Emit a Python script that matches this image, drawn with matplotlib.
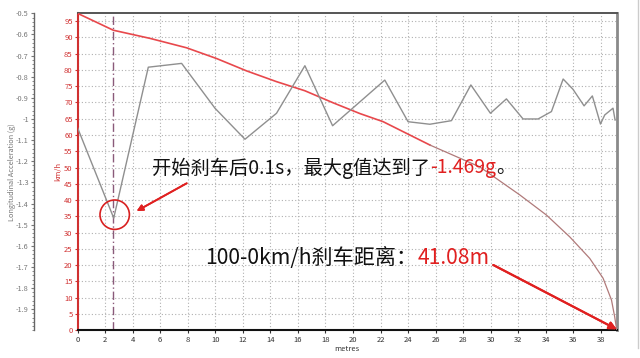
import matplotlib
matplotlib.use("Agg")
import matplotlib.pyplot as plt
from matplotlib.patches import Ellipse
from matplotlib.lines import Line2D
import numpy as np

plt.rcParams['font.family'] = ['Noto Sans CJK SC', 'DejaVu Sans']

# ---- data ----
acc_dist = [0, 2.63, 5.14, 7.56, 9.98, 12.16, 14.45, 16.51, 18.52, 22.31, 24.0,
            25.58, 27.15, 28.56, 29.98, 31.14, 32.35, 33.44, 34.41, 35.26, 35.98,
            36.78, 37.38, 37.97, 38.28, 38.88, 39.03]
acc_g = [-1.041, -1.469, -0.755, -0.737, -0.949, -1.096, -0.973, -0.748, -1.032,
         -0.816, -1.013, -1.025, -1.008, -0.839, -0.973, -0.905, -1.0, -1.0,
         -0.965, -0.811, -0.86, -0.938, -0.891, -1.024, -0.981, -0.949, -1.005]

spd_dist_a = [0, 2.6, 5.26, 7.92, 10.1, 12.28, 14.45, 16.51, 18.56, 20.5, 22.19,
              24.13, 25.6]
spd_a = [97.4, 92.2, 89.7, 86.8, 83.5, 79.7, 76.4, 73.6, 69.9, 66.6, 64.1, 60.0, 56.9]
spd_dist_b = [25.6, 29.21, 32.11, 34.05, 35.74, 37.19, 38.16, 38.77, 39.0, 39.13, 39.15]
spd_b = [56.9, 50.2, 41.6, 35.4, 28.7, 22.1, 16.0, 9.3, 4.2, 0.6, 0.0]

brake_start = 2.6
x_ticks = list(range(0, 39, 2))
spd_ticks = list(range(0, 100, 5))
acc_ticks = [-0.5, -0.6, -0.7, -0.8, -0.9, -1.0, -1.1, -1.2, -1.3, -1.4, -1.5,
             -1.6, -1.7, -1.8, -1.9]
acc_tick_labels = ['-0.5', '-0.6', '-0.7', '-0.8', '-0.9', '-1', '-1.1', '-1.2',
                   '-1.3', '-1.4', '-1.5', '-1.6', '-1.7', '-1.8', '-1.9']

W, H = 640, 358
fig = plt.figure(figsize=(6.4, 3.58), dpi=100)
fig.patch.set_facecolor('white')

def fx(px):
    return px / W

def fy(py):
    return 1 - py / H

L, R, T, B = 77.5, 617.0, 13.3, 330.3
ax = fig.add_axes([fx(L), fy(B), fx(R) - fx(L), fy(T) - fy(B)])
ax.set_xlim(0, 39.17)
ax.set_ylim(0, 97.4)
ax.set_xticks(x_ticks)
ax.set_yticks(spd_ticks)
ax.grid(True, color='#b0b0b0', linestyle=(0, (1, 2)), linewidth=0.8)
ax.set_axisbelow(True)
ax.tick_params(axis='x', labelsize=5.5, colors='#333333', length=2, pad=2)
ax.tick_params(axis='y', labelsize=5.5, colors='#d03030', labelcolor='#d03030',
               length=2, pad=1.5)
ax.spines['left'].set_color('#d03030')
ax.spines['left'].set_linewidth(1.5)
ax.spines['bottom'].set_color('#111111')
ax.spines['bottom'].set_linewidth(1.5)
ax.spines['top'].set_color('#555555')
ax.spines['top'].set_linewidth(1.4)
ax.spines['right'].set_color('#8a8a8a')
ax.spines['right'].set_linewidth(2)
ax.set_xlabel('metres', fontsize=5.5, color='#333333', labelpad=1)
ax.set_ylabel('km/h', fontsize=5.5, color='#d03030', labelpad=1)

ax.axvline(brake_start, color='#8a5a7a', linestyle=(0, (6, 2, 1, 2)), linewidth=1.0)

ax.plot(spd_dist_a, spd_a, color='#e8484c', linewidth=1.2, zorder=4)
ax.plot(spd_dist_b, spd_b, color='#b07a7a', linewidth=0.9, zorder=4)

# acceleration axis
ax2 = ax.twinx()
ax2.set_ylim(-2.0, -0.5)
for s in ['top', 'right', 'bottom']:
    ax2.spines[s].set_visible(False)
ax2.spines['left'].set_visible(True)
ax2.spines['left'].set_position(('outward', (L - 34) * 72 / 100))
ax2.spines['left'].set_color('#666666')
ax2.spines['left'].set_linewidth(1.0)
ax2.yaxis.set_ticks_position('left')
ax2.yaxis.set_label_position('left')
ax2.set_yticks(acc_ticks)
ax2.set_yticklabels(acc_tick_labels)
ax2.set_yticks(np.arange(-2.0, -0.49, 0.02), minor=True)
ax2.tick_params(axis='y', which='major', labelsize=5.3, colors='#777777', length=2.5, pad=1.2)
ax2.tick_params(axis='y', which='minor', colors='#777777', length=1.5)
ax2.set_ylabel('Longitudinal Acceleration (g)', fontsize=5.3, color='#777777')
ax2.yaxis.set_label_coords((16 - L) / (R - L), 0.5)
ax2.plot(acc_dist, acc_g, color='#8f8f8f', linewidth=1.0, zorder=3)

# outer panel line
fig.add_artist(Line2D([fx(637.5), fx(637.5)], [fy(0), fy(348)], color='#cccccc', linewidth=1.0))

# circle
fig.add_artist(Ellipse((fx(114.7), fy(214.7)), 29.4 / W, 29.4 / H,
                       transform=fig.transFigure, fill=False, edgecolor='#d82020', linewidth=1.2))

# arrows
fig.add_artist(plt.annotate('', xy=(fx(136.7), fy(211)), xytext=(fx(186.7), fy(183.3)),
                            xycoords='figure fraction', textcoords='figure fraction',
                            arrowprops=dict(arrowstyle='-|>', color='#e02020', lw=1.3,
                                            mutation_scale=9, shrinkA=0, shrinkB=0)))
fig.add_artist(plt.annotate('', xy=(fx(616.7), fy(329.3)), xytext=(fx(493.3), fy(265)),
                            xycoords='figure fraction', textcoords='figure fraction',
                            arrowprops=dict(arrowstyle='-|>', color='#e02020', lw=1.5,
                                            mutation_scale=11, shrinkA=0, shrinkB=0)))

# texts (sequential pieces)
fig.canvas.draw()
renderer = fig.canvas.get_renderer()

def place(pieces, x0, yc, size):
    x = fx(x0)
    for s, c in pieces:
        t = fig.text(x, fy(yc), s, color=c, fontsize=size, ha='left', va='center')
        bb = t.get_window_extent(renderer=renderer)
        x += bb.width / W

place([('开始刹车后0.1s，最大g值达到了', '#111111'), ('-1.469g', '#e02020'), ('。', '#111111')],
      152, 168, 13.9)
place([('100-0km/h刹车距离：', '#111111'), ('41.08m', '#e02020')], 205, 258, 15.2)

fig.savefig('out.png', dpi=100, facecolor='white')
